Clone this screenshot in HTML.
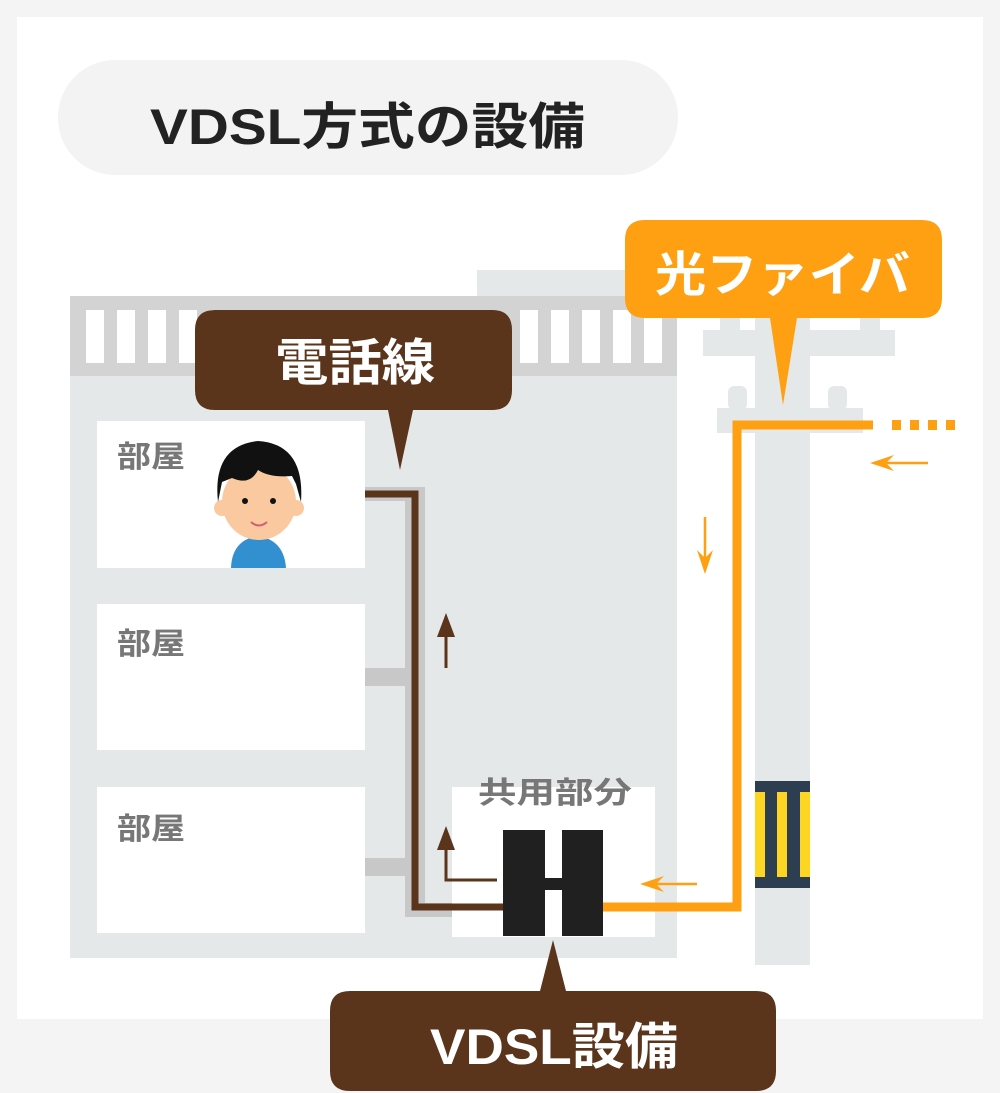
<!DOCTYPE html>
<html><head><meta charset="utf-8"><style>
html,body{margin:0;padding:0;background:#f4f4f4;}
svg{display:block;}
text{font-family:"Liberation Sans","Noto Sans CJK JP",sans-serif;font-weight:bold;}
</style></head><body>
<svg width="1000" height="1093" viewBox="0 0 1000 1093" xmlns="http://www.w3.org/2000/svg">
<rect x="0" y="0" width="1000" height="1093" fill="#f4f4f4"/>
<rect x="17" y="17" width="966" height="1002" fill="#fff"/>
<rect x="58" y="60" width="620" height="115" rx="57" fill="#f3f3f3"/>
<text x="150" y="144" font-size="50" fill="#222" textLength="435" lengthAdjust="spacingAndGlyphs">VDSL方式の設備</text>

<!-- building -->
<rect x="477" y="270" width="200" height="40" fill="#e5e8e9"/>
<rect x="70" y="296" width="607" height="662" fill="#e5e8e9"/>
<rect x="70" y="296" width="607" height="80" fill="#d3d3d3"/>
<g fill="#fff">
<rect x="86" y="310" width="18" height="53"/><rect x="117" y="310" width="18" height="53"/><rect x="148" y="310" width="18" height="53"/><rect x="179" y="310" width="18" height="53"/>
<rect x="210" y="310" width="18" height="53"/><rect x="520" y="310" width="18" height="53"/><rect x="551" y="310" width="18" height="53"/><rect x="582" y="310" width="18" height="53"/><rect x="613" y="310" width="18" height="53"/><rect x="644" y="310" width="18" height="53"/>
</g>
<rect x="97" y="421" width="268" height="147" fill="#fff"/>
<rect x="97" y="604" width="268" height="146" fill="#fff"/>
<rect x="97" y="787" width="268" height="146" fill="#fff"/>
<text x="117" y="467" font-size="30" fill="#777" textLength="68" lengthAdjust="spacingAndGlyphs">部屋</text>
<text x="117" y="654" font-size="30" fill="#777" textLength="68" lengthAdjust="spacingAndGlyphs">部屋</text>
<text x="117" y="839" font-size="30" fill="#777" textLength="68" lengthAdjust="spacingAndGlyphs">部屋</text>

<!-- gray pipes -->
<rect x="405" y="487" width="20" height="430" fill="#c8c8c8"/>
<rect x="365" y="487" width="60" height="14" fill="#c8c8c8"/>
<rect x="365" y="668" width="45" height="18" fill="#c8c8c8"/>
<rect x="365" y="858" width="45" height="18" fill="#c8c8c8"/>
<rect x="405" y="903" width="100" height="14" fill="#c8c8c8"/>

<!-- common area -->
<rect x="452" y="787" width="203" height="150" fill="#fff"/>
<text x="478" y="803" font-size="30" fill="#777" textLength="154" lengthAdjust="spacingAndGlyphs">共用部分</text>

<!-- brown line -->
<polyline points="365,494 415,494 415,907 505,907" fill="none" stroke="#5a341b" stroke-width="7"/>
<line x1="446" y1="668" x2="446" y2="628" stroke="#5a341b" stroke-width="3"/>
<polygon points="446,613 437,637 455,637" fill="#5a341b"/>
<polyline points="497,880 446,880 446,840" fill="none" stroke="#5a341b" stroke-width="3"/>
<polygon points="446,826 437,850 455,850" fill="#5a341b"/>

<!-- H device -->
<rect x="503" y="830" width="42" height="106" fill="#202020"/>
<rect x="562" y="830" width="41" height="106" fill="#202020"/>
<rect x="545" y="878" width="17" height="12" fill="#202020"/>

<!-- pole -->
<rect x="755" y="318" width="55" height="647" fill="#e5e8e9"/>
<rect x="703" y="330" width="192" height="26" fill="#e5e8e9"/>
<rect x="720" y="318" width="20" height="14" fill="#e5e8e9"/>
<rect x="860" y="318" width="20" height="14" fill="#e5e8e9"/>
<rect x="717" y="408" width="146" height="25" fill="#e5e8e9"/>
<rect x="728" y="386" width="19" height="24" rx="6" fill="#e5e8e9"/>
<rect x="828" y="386" width="19" height="24" rx="6" fill="#e5e8e9"/>
<rect x="755" y="781" width="55" height="107" fill="#2c3e50"/>
<rect x="755" y="792" width="10" height="85" fill="#fdd523"/>
<rect x="777" y="792" width="10" height="85" fill="#fdd523"/>
<rect x="800" y="792" width="10" height="85" fill="#fdd523"/>

<!-- orange line -->
<polyline points="603,907 737,907 737,425 873,425" fill="none" stroke="#ff9f12" stroke-width="9"/>
<g fill="#ff9f12">
<rect x="892" y="420" width="9" height="10"/><rect x="910" y="420" width="9" height="10"/><rect x="928" y="420" width="9" height="10"/><rect x="946" y="420" width="9" height="10"/>
</g>
<line x1="705" y1="517" x2="705" y2="560" stroke="#ff9f12" stroke-width="2.5"/>
<polygon points="705,574 697,550 705,558 713,550" fill="#ff9f12"/>
<line x1="928" y1="463" x2="882" y2="463" stroke="#ff9f12" stroke-width="2.5"/>
<polygon points="870,463 894,455 886,463 894,471" fill="#ff9f12"/>
<line x1="697" y1="884" x2="652" y2="884" stroke="#ff9f12" stroke-width="2.5"/>
<polygon points="640,884 664,876 656,884 664,892" fill="#ff9f12"/>

<!-- person -->
<path d="M231,568 Q232,540 258,536 Q284,540 286,568 Z" fill="#3390d0"/>
<circle cx="222" cy="508" r="8" fill="#fbc9a0"/>
<circle cx="296" cy="508" r="8" fill="#fbc9a0"/>
<ellipse cx="259" cy="502" rx="37" ry="38" fill="#fbc9a0"/>
<path d="M218,502 Q212,446 258,441 Q305,444 301,502 L296,484 L292,476 Q270,478 258,470 Q250,486 232,478 L222,482 Z" fill="#111"/>
<circle cx="245" cy="501" r="3" fill="#111"/><circle cx="273" cy="501" r="3" fill="#111"/>
<path d="M251,522 Q259,529 267,522" fill="none" stroke="#d06070" stroke-width="2"/>

<!-- bubbles -->
<path d="M215,310 H492 Q512,310 512,330 V390 Q512,410 492,410 H413 L400,470 L388,410 H215 Q195,410 195,390 V330 Q195,310 215,310 Z" fill="#5a341b"/>
<text x="275" y="380" font-size="50" fill="#fff" textLength="160" lengthAdjust="spacingAndGlyphs">電話線</text>
<path d="M645,220 H922 Q942,220 942,240 V298 Q942,318 922,318 H797 L783,405 L770,318 H645 Q625,318 625,298 V240 Q625,220 645,220 Z" fill="#ff9f12"/>
<text x="655" y="291" font-size="48" fill="#fff" textLength="255" lengthAdjust="spacingAndGlyphs">光ファイバ</text>
<path d="M350,991 H540 L553,940 L566,991 H756 Q776,991 776,1011 V1071 Q776,1091 756,1091 H350 Q330,1091 330,1071 V1011 Q330,991 350,991 Z" fill="#5a341b"/>
<text x="430" y="1064" font-size="50" fill="#fff" textLength="248" lengthAdjust="spacingAndGlyphs">VDSL設備</text>
</svg>
</body></html>
